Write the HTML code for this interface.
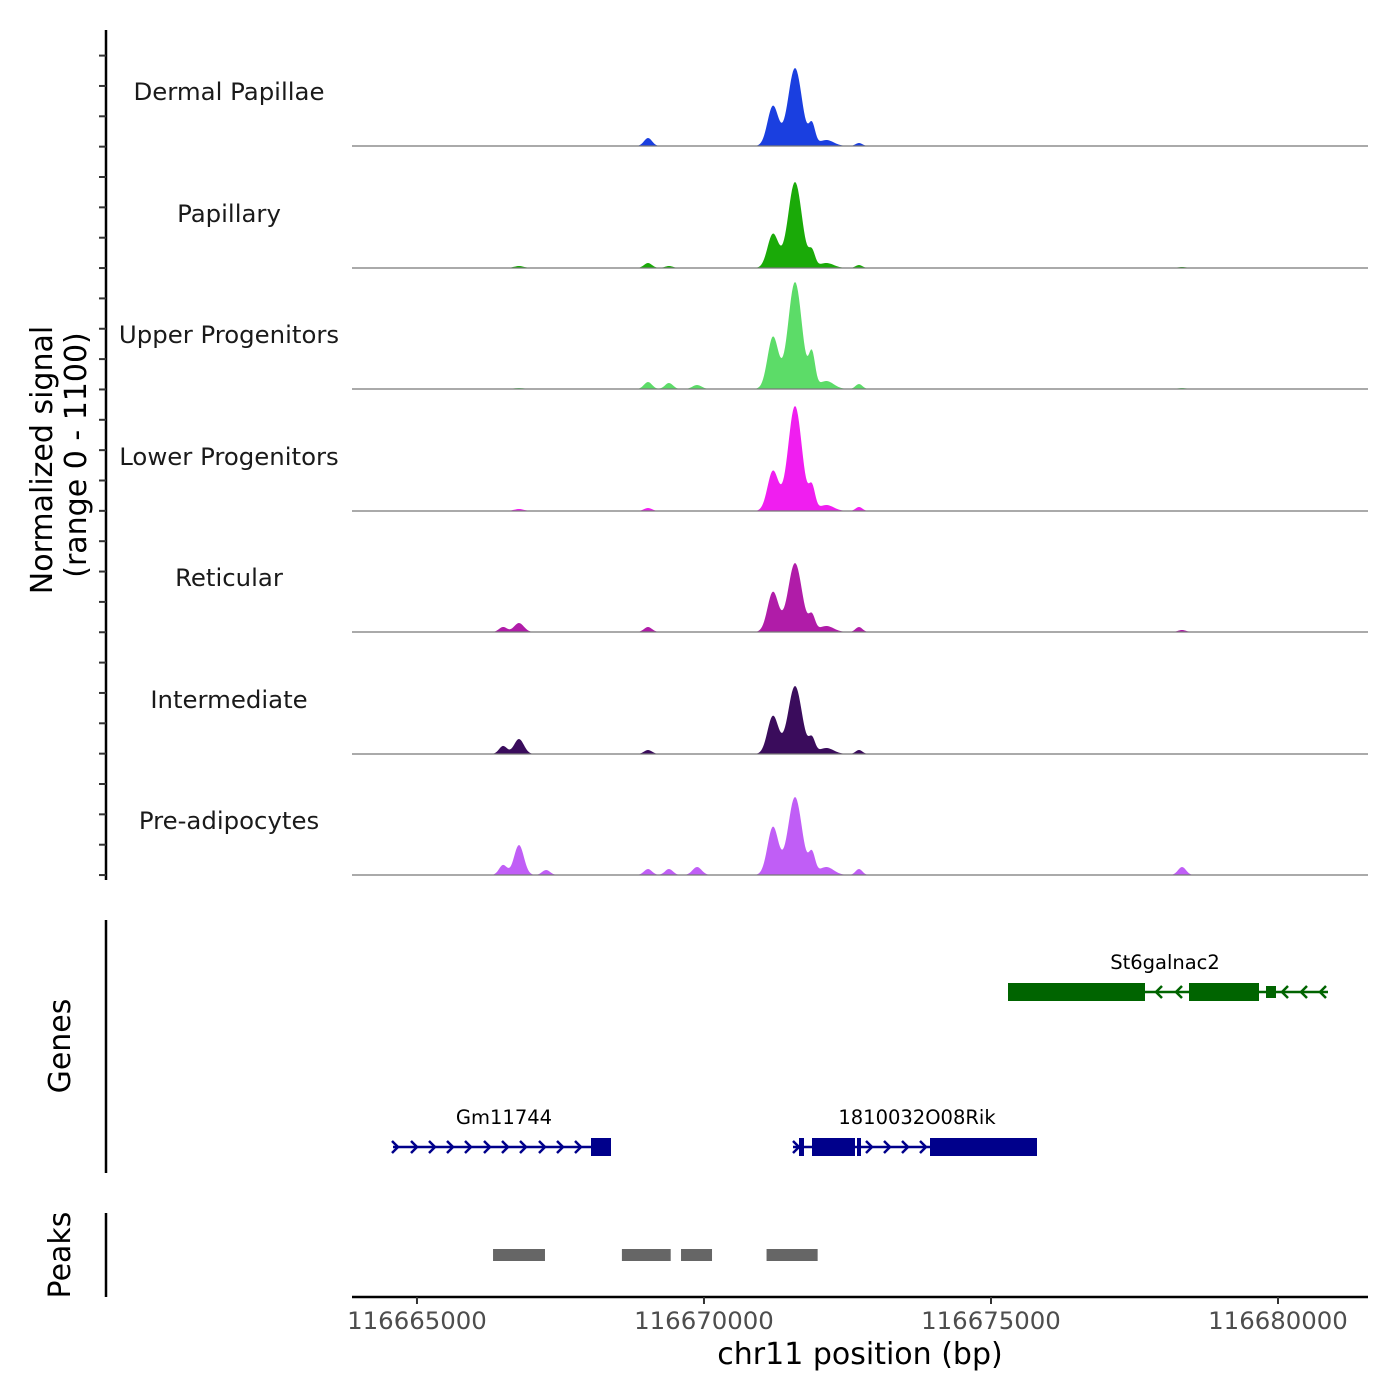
<!DOCTYPE html>
<html><head><meta charset="utf-8"><style>
html,body{margin:0;padding:0;background:#fff;}
svg{display:block;font-family:"DejaVu Sans","Liberation Sans",sans-serif;}
</style></head><body>
<svg id="chart" width="1400" height="1400" viewBox="0 0 1400 1400" xmlns="http://www.w3.org/2000/svg"></svg>
<script>
const trackNames = ["Dermal Papillae","Papillary","Upper Progenitors","Lower Progenitors","Reticular","Intermediate","Pre-adipocytes"];
const trackColors = ["#1a3fe0","#1aaa08","#5cdc68","#f01ef0","#b01ca8","#3a0c5c","#c05ef6"];
const peakCenters = [116671586,116671202,116671882,116672130,116669025,116666777,116666500,116669390,116669880,116672700,116678328,116667250];
const peakWidths  = [120,95,55,130,70,85,70,70,80,60,70,70];
const heightsDermal = [780,400,200,60,80,0,0,0,0,30,0,0];
const heightsPapillary = [860,340,150,50,50,20,0,20,0,30,10,0];
const heightsUpper = [1070,520,330,80,70,10,0,60,40,50,10,0];
const heightsLower = [1050,400,220,60,30,20,0,0,0,40,0,0];
const heightsReticular = [690,400,150,60,50,90,50,0,0,50,20,0];
const heightsIntermediate = [680,380,140,60,40,150,80,0,0,40,0,0];
const heightsPreadip = [780,480,200,80,60,300,100,60,80,60,80,50];
const trackHeights = [heightsDermal,heightsPapillary,heightsUpper,heightsLower,heightsReticular,heightsIntermediate,heightsPreadip];
const xTicks = [116665000,116670000,116675000,116680000];
const peakRegions = [[116666325,116667230],[116668570,116669420],[116669600,116670140],[116671090,116671980]];

const svg = document.getElementById('chart');
const NS = "http://www.w3.org/2000/svg";
function mk(tag, attrs, parent){const e=document.createElementNS(NS,tag);for(const k in attrs)e.setAttribute(k,attrs[k]);(parent||svg).appendChild(e);return e;}
const X0=116663868, X1=116681568, PX0=352, PX1=1368;
function xs(v){return PX0+(v-X0)/(X1-X0)*(PX1-PX0);}
const baselines=[146,268,389,511,632,754,875];
function ys(v,b){return b-v*0.1;}

trackNames.forEach((name,t)=>{
  const b=baselines[t];
  const hs=trackHeights[t];
  let d="M"+PX0+","+b;
  for(let px=PX0;px<=PX1;px+=1){
    const bp=X0+(px-PX0)/(PX1-PX0)*(X1-X0);
    let v=0;
    for(let i=0;i<peakCenters.length;i++){const z=(bp-peakCenters[i])/peakWidths[i];v+=hs[i]*Math.exp(-0.5*z*z);}
    d+=" L"+px+","+ys(v,b).toFixed(2);
  }
  d+=" L"+PX1+","+b+" Z";
  const p=mk('path',{d:d,fill:trackColors[t]});
  
  
  const l=mk('line',{x1:PX0,x2:PX1,y1:b,y2:b,stroke:'#777','stroke-width':1.2});
  
  
  const tx=mk('text',{x:229,y:b-46,'text-anchor':'middle','font-size':24.4,fill:'#1a1a1a'});
  tx.textContent=name;
  
  
});

const ax=mk('line',{x1:106,x2:106,y1:30,y2:880,stroke:'#000','stroke-width':2.5});


for(let y=55.6;y<880;y+=30.35){
  const tk=mk('line',{x1:99,x2:106,y1:y,y2:y,stroke:'#333','stroke-width':2});
  
  
}
const yt=mk('text',{transform:'translate(52,460) rotate(-90)','text-anchor':'middle','font-size':30,fill:'#000'});
yt.textContent='Normalized signal';


const yt2=mk('text',{transform:'translate(86,455) rotate(-90)','text-anchor':'middle','font-size':30,fill:'#000'});
yt2.textContent='(range 0 - 1100)';



const ga=mk('line',{x1:106,x2:106,y1:920,y2:1173,stroke:'#000','stroke-width':2.5});


const gt=mk('text',{transform:'translate(70,1046) rotate(-90)','text-anchor':'middle','font-size':30});
gt.textContent='Genes';



function gene(name,color,y,x1,x2,exons,dir,arrowXs,labelX){
  const g=mk('g',{});
  
  
  mk('line',{x1:x1,x2:x2,y1:y,y2:y,stroke:color,'stroke-width':2.5},g);
  exons.forEach(e=>mk('rect',{x:e[0],y:y-e[2]/2,width:e[1]-e[0],height:e[2],fill:color},g));
  arrowXs.forEach(ax=>{
    const d=dir>0?`M${ax-4},${y-6} L${ax+2},${y} L${ax-4},${y+6}`:`M${ax+4},${y-6} L${ax-2},${y} L${ax+4},${y+6}`;
    mk('path',{d:d,stroke:color,'stroke-width':2.5,fill:'none'},g);
  });
  const t=mk('text',{x:labelX,y:y-23,'text-anchor':'middle','font-size':19.5,fill:'#000'},g);
  t.textContent=name;
}
gene('St6galnac2','#006400',992,1008,1328,[[1008,1145,18],[1189,1259,18],[1266,1276,12]],-1,[1158,1178,1284,1303,1322],1165);
gene('Gm11744','#00008b',1147,393,611,[[591,611,18]],1,[396,415,433,451,469,488,506,524,543,561,579],504);
gene('1810032O08Rik','#00008b',1147,793,1037,[[799,804,18],[812,855,18],[857,861,18],[930,1037,18]],1,[797,870,888,906,924],917);

const pa=mk('line',{x1:106,x2:106,y1:1213,y2:1297,stroke:'#000','stroke-width':2.5});


const pt=mk('text',{transform:'translate(70,1255) rotate(-90)','text-anchor':'middle','font-size':30});
pt.textContent='Peaks';


peakRegions.forEach(r=>{
  const rc=mk('rect',{x:xs(r[0]),y:1249,width:xs(r[1])-xs(r[0]),height:12,fill:'#666'});
  
  
});

const xa=mk('line',{x1:PX0,x2:PX1,y1:1297,y2:1297,stroke:'#000','stroke-width':2.5});


xTicks.forEach(v=>{
  const tk=mk('line',{x1:xs(v),x2:xs(v),y1:1297,y2:1304,stroke:'#333','stroke-width':2});
  
  
  const tl=mk('text',{x:xs(v),y:1329,'text-anchor':'middle','font-size':24.4,fill:'#4d4d4d'});
  tl.textContent=String(v);
  
  
});
const xt=mk('text',{x:860,y:1364,'text-anchor':'middle','font-size':30,fill:'#000'});
xt.textContent='chr11 position (bp)';


</script>
</body></html>
